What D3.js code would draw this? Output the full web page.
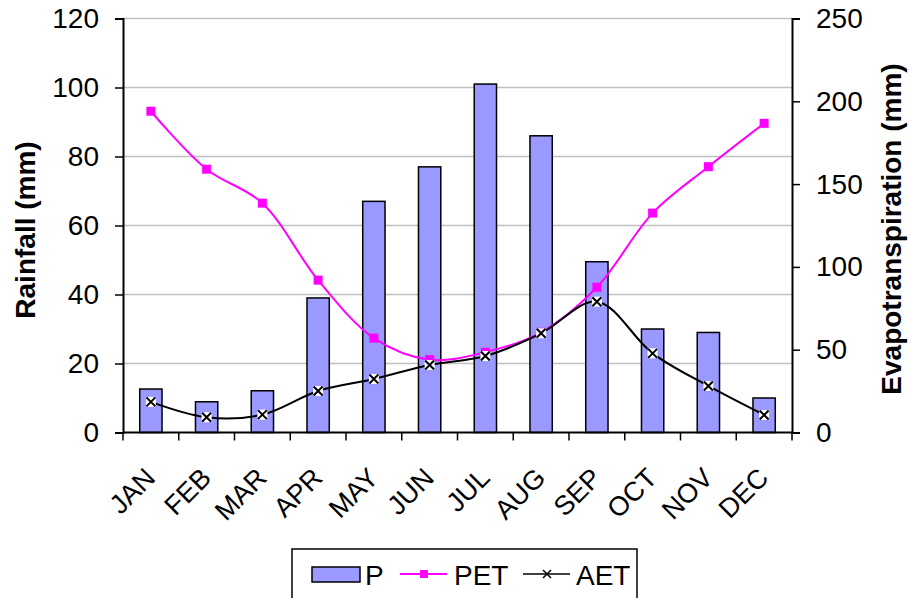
<!DOCTYPE html>
<html>
<head>
<meta charset="utf-8">
<script src="https://cdn.jsdelivr.net/npm/d3@7"></script>
<style>
  body { margin: 0; background: #fff; }
  text { font-family: Arial, "Liberation Sans", sans-serif; }
</style>
</head>
<body>
<svg id="chart" width="910" height="598"></svg>
<script>
const months = ['JAN', 'FEB', 'MAR', 'APR', 'MAY', 'JUN', 'JUL', 'AUG', 'SEP', 'OCT', 'NOV', 'DEC'];
const rainfall = [12.6, 8.9, 12.1, 39, 67, 77, 101, 86, 49.5, 30, 29, 10];
const pet = [194, 159, 138.5, 92, 57, 44, 48.5, 60.5, 87.7, 132.5, 160.5, 186.7];
const aet = [18.5, 9.2, 10.8, 25.1, 32.3, 40.8, 46.2, 59.9, 79, 47.8, 28.1, 10.6];
const leftTicks = [0, 20, 40, 60, 80, 100, 120];
const rightTicks = [0, 50, 100, 150, 200, 250];

const plotLeft = 123, plotRight = 792, plotTop = 18.5, plotBottom = 432.5;
const svg = d3.select('#chart');

const x = d3.scaleBand().domain(months).range([plotLeft, plotRight]).paddingInner(0).paddingOuter(0);
const yL = d3.scaleLinear().domain([0, 120]).range([plotBottom, plotTop]);
const yR = d3.scaleLinear().domain([0, 250]).range([plotBottom, plotTop]);

// gridlines
svg.append('g')
  .selectAll('line')
  .data(leftTicks.filter(d => d > 0))
  .join('line')
    .attr('x1', plotLeft)
    .attr('x2', plotRight)
    .attr('y1', d => yL(d))
    .attr('y2', d => yL(d))
    .attr('stroke', '#c0c0c0')
    .attr('stroke-width', 1.5);

// bars
const barW = x.bandwidth() * 0.4;
svg.append('g')
  .selectAll('rect')
  .data(rainfall)
  .join('rect')
    .attr('x', (d, i) => x(months[i]) + (x.bandwidth() - barW) / 2)
    .attr('y', d => yL(d))
    .attr('width', barW)
    .attr('height', d => plotBottom - yL(d))
    .attr('fill', '#9999ff')
    .attr('stroke', '#000')
    .attr('stroke-width', 1.5);

// axes
const leftAxis = d3.axisLeft(yL).tickValues(leftTicks).tickSize(8).tickPadding(16);
const rightAxis = d3.axisRight(yR).tickValues(rightTicks).tickSize(8).tickPadding(16);
const gL = svg.append('g').attr('transform', `translate(${plotLeft},0)`).call(leftAxis);
const gR = svg.append('g').attr('transform', `translate(${plotRight},0)`).call(rightAxis);
[gL, gR].forEach(g => {
  g.select('.domain').attr('stroke', '#000').attr('stroke-width', 2);
  g.selectAll('.tick line').attr('stroke', '#000').attr('stroke-width', 1.5);
  g.selectAll('.tick text').attr('font-size', '28px').attr('fill', '#000')
    .attr('font-family', 'Arial, "Liberation Sans", sans-serif');
});

// x axis
svg.append('line')
  .attr('x1', plotLeft).attr('x2', plotRight)
  .attr('y1', plotBottom).attr('y2', plotBottom)
  .attr('stroke', '#000').attr('stroke-width', 2);
const xTicks = months.map(m => x(m)).concat([plotRight]);
svg.append('g')
  .selectAll('line')
  .data(xTicks)
  .join('line')
    .attr('x1', d => d).attr('x2', d => d)
    .attr('y1', plotBottom).attr('y2', plotBottom + 8)
    .attr('stroke', '#000').attr('stroke-width', 1.5);
svg.append('g')
  .selectAll('text')
  .data(months)
  .join('text')
    .attr('transform', d => `translate(${x(d) + x.bandwidth() / 2 + 6},${plotBottom + 47}) rotate(-45)`)
    .attr('text-anchor', 'end')
    .attr('font-size', '27px')
    .text(d => d);

// lines
const cx = i => x(months[i]) + x.bandwidth() / 2;
const lineGen = d3.line().x((d, i) => cx(i)).y(d => yR(d)).curve(d3.curveCatmullRom.alpha(0.5));
svg.append('path')
  .datum(pet)
  .attr('d', lineGen)
  .attr('fill', 'none')
  .attr('stroke', '#ff00ff')
  .attr('stroke-width', 2);
svg.append('path')
  .datum(aet)
  .attr('d', lineGen)
  .attr('fill', 'none')
  .attr('stroke', '#000')
  .attr('stroke-width', 2);

// PET markers
svg.append('g')
  .selectAll('rect')
  .data(pet)
  .join('rect')
    .attr('x', (d, i) => cx(i) - 4.5)
    .attr('y', d => yR(d) - 4.5)
    .attr('width', 9).attr('height', 9)
    .attr('fill', '#ff00ff');

// AET markers
const aetG = svg.append('g')
  .selectAll('g')
  .data(aet)
  .join('g')
    .attr('transform', (d, i) => `translate(${cx(i)},${yR(d)})`);
aetG.append('rect')
  .attr('x', -5).attr('y', -5).attr('width', 10).attr('height', 10)
  .attr('fill', '#fff');
aetG.append('path')
  .attr('d', 'M-4.5,-4.5L4.5,4.5M-4.5,4.5L4.5,-4.5')
  .attr('stroke', '#000').attr('stroke-width', 2);

// axis titles
svg.append('text')
  .attr('transform', `translate(35,230) rotate(-90)`)
  .attr('text-anchor', 'middle')
  .attr('font-size', '28px')
  .attr('font-weight', 'bold')
  .text('Rainfall (mm)');
svg.append('text')
  .attr('transform', `translate(901,229) rotate(-90)`)
  .attr('text-anchor', 'middle')
  .attr('font-size', '28px')
  .attr('font-weight', 'bold')
  .text('Evapotranspiration (mm)');

// legend
const legend = svg.append('g');
legend.append('rect')
  .attr('x', 292).attr('y', 549).attr('width', 345).attr('height', 50)
  .attr('fill', '#fff').attr('stroke', '#000').attr('stroke-width', 1.5);
legend.append('rect')
  .attr('x', 312).attr('y', 567).attr('width', 48).attr('height', 15)
  .attr('fill', '#9999ff').attr('stroke', '#000').attr('stroke-width', 1.5);
legend.append('text').attr('x', 365).attr('y', 585).attr('font-size', '28px').text('P');
legend.append('line')
  .attr('x1', 400).attr('x2', 447).attr('y1', 574).attr('y2', 574)
  .attr('stroke', '#ff00ff').attr('stroke-width', 2);
legend.append('rect')
  .attr('x', 420).attr('y', 570).attr('width', 8).attr('height', 8)
  .attr('fill', '#ff00ff');
legend.append('text').attr('x', 454).attr('y', 585).attr('font-size', '28px').text('PET');
legend.append('line')
  .attr('x1', 523).attr('x2', 570).attr('y1', 574).attr('y2', 574)
  .attr('stroke', '#000').attr('stroke-width', 1.5);
legend.append('path')
  .attr('d', 'M543,570L551,578M543,578L551,570')
  .attr('stroke', '#000').attr('stroke-width', 1.5);
legend.append('text').attr('x', 576).attr('y', 585).attr('font-size', '28px').text('AET');
</script>
</body>
</html>
